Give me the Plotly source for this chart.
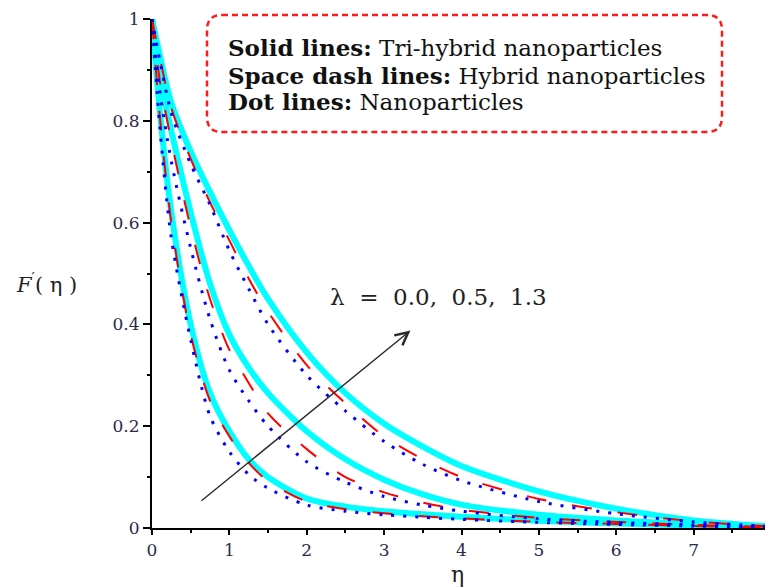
import plotly.graph_objects as go

# ---------------- data ----------------
eta = [0, 0.1, 0.25, 0.5, 0.75, 1.0, 1.25, 1.5, 2.0, 2.5, 3.0, 3.5, 4.0, 5.0, 6.0, 7.0, 8.0]

lambdas = ["0.0", "0.5", "1.3"]

# Tri-hybrid nanoparticles (solid cyan)
tri_l00 = [1.0, 0.82, 0.62, 0.40, 0.265, 0.19, 0.135, 0.10, 0.058, 0.042, 0.033, 0.027, 0.022, 0.014, 0.009, 0.005, 0.001]
tri_l05 = [1.0, 0.89, 0.78, 0.62, 0.48, 0.38, 0.315, 0.265, 0.19, 0.135, 0.095, 0.066, 0.046, 0.026, 0.015, 0.008, 0.002]
tri_l13 = [1.0, 0.93, 0.835, 0.74, 0.66, 0.585, 0.515, 0.45, 0.345, 0.265, 0.205, 0.16, 0.122, 0.072, 0.038, 0.015, 0.003]

# Hybrid nanoparticles (space dash red)
hyb_l00 = [1.0, 0.81, 0.60, 0.38, 0.25, 0.18, 0.128, 0.092, 0.052, 0.037, 0.029, 0.023, 0.019, 0.012, 0.008, 0.004, 0.001]
hyb_l05 = [1.0, 0.88, 0.76, 0.59, 0.45, 0.35, 0.285, 0.225, 0.155, 0.10, 0.07, 0.05, 0.036, 0.02, 0.012, 0.006, 0.002]
hyb_l13 = [1.0, 0.925, 0.825, 0.725, 0.64, 0.565, 0.49, 0.425, 0.32, 0.245, 0.18, 0.135, 0.10, 0.057, 0.031, 0.013, 0.003]

# Nanoparticles (dotted blue)
nano_l00 = [1.0, 0.79, 0.57, 0.37, 0.22, 0.15, 0.105, 0.078, 0.045, 0.033, 0.026, 0.021, 0.017, 0.011, 0.007, 0.004, 0.001]
nano_l05 = [1.0, 0.86, 0.72, 0.55, 0.41, 0.31, 0.25, 0.20, 0.13, 0.09, 0.062, 0.045, 0.033, 0.018, 0.011, 0.006, 0.002]
nano_l13 = [1.0, 0.92, 0.815, 0.715, 0.635, 0.545, 0.47, 0.40, 0.30, 0.23, 0.17, 0.125, 0.093, 0.052, 0.028, 0.012, 0.003]

x_ticks = [0, 1, 2, 3, 4, 5, 6, 7, 8]
y_ticks = [0, 0.2, 0.4, 0.6, 0.8, 1.0]
y_tick_labels = ["0", "0.2", "0.4", "0.6", "0.8", "1"]

legend_lines = [
    ("Solid lines:", "Tri-hybrid nanoparticles"),
    ("Space dash lines:", "Hybrid nanoparticles"),
    ("Dot lines:", "Nanoparticles"),
]
lambda_label = "λ = 0.0, 0.5, 1.3"

# ---------------- layout geometry ----------------
# the page body has an 8px margin, so the figure is placed at (8, 8)
OFF = 8
W, H = 765, 580
ML, MR, MT, MB = 144, 2, 11, 60
PW, PH = W - ML - MR, H - MT - MB

def px_x(px):
    return (px - OFF - ML) / PW

def px_y(py):
    return (H - MB - (py - OFF)) / PH

SERIF = "DejaVu Serif"
NB = "\u00a0"

fig = go.Figure()

groups = [
    (tri_l00, tri_l05, tri_l13),
    (hyb_l00, hyb_l05, hyb_l13),
    (nano_l00, nano_l05, nano_l13),
]
styles = [
    dict(color="#00ffff", width=6, dash="solid"),
    dict(color="#ff0000", width=2, dash="20px,26px"),
    dict(color="#0000ff", width=3, dash="3px,9px"),
]
names = ["Tri-hybrid", "Hybrid", "Nano"]
for series, st, nm in zip(groups, styles, names):
    for lam, ys in zip(lambdas, series):
        fig.add_trace(go.Scatter(
            x=eta, y=ys, mode="lines", name=f"{nm} λ={lam}",
            line=dict(color=st["color"], width=st["width"], dash=st["dash"],
                      shape="spline", smoothing=0.8),
            showlegend=False, hoverinfo="skip",
        ))

# arrow
fig.add_annotation(
    x=3.34, y=0.388, ax=0.62, ay=0.051, xref="x", yref="y", axref="x", ayref="y",
    text="", showarrow=True, arrowhead=5, arrowsize=1.8, arrowwidth=1.4,
    arrowcolor="#2a2a2a",
)
lam_text = lambda_label.replace(" ", NB * 2)
fig.add_annotation(
    x=px_x(328), y=px_y(297), xref="paper", yref="paper", xanchor="left", yanchor="middle",
    text=lam_text, showarrow=False,
    font=dict(family=SERIF, size=23, color="#222222"),
)

# legend box (rounded dashed red)
L, R, T, B, r = 207, 722, 15, 132, 15
pts = [
    ("M", [(L + r, T)]), ("L", [(R - r, T)]), ("Q", [(R, T), (R, T + r)]),
    ("L", [(R, B - r)]), ("Q", [(R, B), (R - r, B)]), ("L", [(L + r, B)]),
    ("Q", [(L, B), (L, B - r)]), ("L", [(L, T + r)]), ("Q", [(L, T), (L + r, T)]),
]
path = ""
for cmd, cs in pts:
    path += cmd + " ".join(f"{px_x(a):.5f},{px_y(b):.5f}" for a, b in cs) + " "
path += "Z"
fig.add_shape(type="path", path=path, xref="paper", yref="paper",
              line=dict(color="#ff1a1a", width=2.5, dash="6px,4px"))

for (bold, rest), cy in zip(legend_lines, [48, 75, 101]):
    fig.add_annotation(
        x=px_x(226), y=px_y(cy), xref="paper", yref="paper", xanchor="left", yanchor="middle",
        text=f"<b>{bold}</b> {rest}", showarrow=False,
        font=dict(family=SERIF, size=23, color="#111111"),
    )

# axis titles
fig.add_annotation(
    x=px_x(14), y=px_y(283), xref="paper", yref="paper", xanchor="left", yanchor="middle",
    text=f"<i>F</i><sup>′</sup>({NB}η{NB})", showarrow=False,
    font=dict(family=SERIF, size=21, color="#222222"),
)
fig.add_annotation(
    x=px_x(457), y=px_y(574), xref="paper", yref="paper", xanchor="center", yanchor="middle",
    text="η", showarrow=False,
    font=dict(family=SERIF, size=22, color="#222222"),
)

tickfont = dict(family=SERIF, size=17, color="#2a2a4a")
fig.update_xaxes(
    range=[0, 8], showline=True, linecolor="black", linewidth=2, automargin=False,
    ticks="outside", ticklen=5, tickwidth=1.5, tickcolor="black", ticklabelstandoff=1,
    ticklabeloverflow="allow",
    tickvals=x_ticks, ticktext=[str(v) for v in x_ticks], tickfont=tickfont,
    showgrid=False, zeroline=False,
    minor=dict(dtick=0.5, ticks="outside", ticklen=3, tickwidth=1.5, tickcolor="black", showgrid=False),
)
fig.update_yaxes(
    range=[0, 1], showline=True, linecolor="black", linewidth=2, automargin=False,
    ticks="outside", ticklen=7, tickwidth=1.5, tickcolor="black",
    tickvals=y_ticks, ticktext=y_tick_labels, tickfont=tickfont,
    showgrid=False, zeroline=False,
    minor=dict(dtick=0.1, ticks="outside", ticklen=3, tickwidth=1.5, tickcolor="black", showgrid=False),
)

fig.update_layout(
    width=W, height=H,
    margin=dict(l=ML, r=MR, t=MT, b=MB, autoexpand=False),
    paper_bgcolor="white", plot_bgcolor="white",
    showlegend=False,
)

fig.write_html("out.html")
